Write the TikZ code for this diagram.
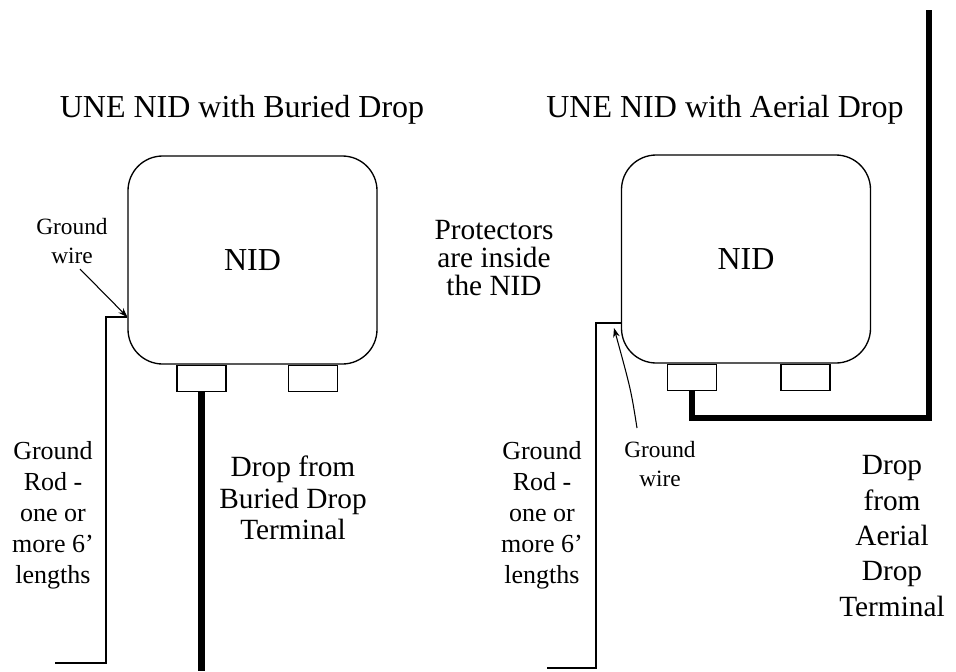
\documentclass[tikz,border=0pt]{standalone}
\usepackage{fontspec}
\setmainfont{Liberation Serif}
\usetikzlibrary{arrows.meta}
\begin{document}
\begin{tikzpicture}[x=0.75pt,y=-0.75pt,
  nidbox/.style={draw,line width=1pt,rounded corners=26pt,minimum width=186.75pt,minimum height=156pt,inner sep=0pt,font=\fontsize{24}{28}\selectfont},
  conn/.style={draw,line width=1pt,minimum width=36.75pt,minimum height=19.5pt,inner sep=0pt,anchor=north},
  wire/.style={line width=1pt},
  dropline/.style={line width=4.8pt},
  arr/.style={line width=0.8pt,-{Stealth[length=7pt,width=5pt]}},
  title/.style={font=\fontsize{24}{28}\selectfont,inner sep=0pt},
  big/.style={font=\fontsize{22}{23.5}\selectfont,align=center,inner sep=0pt},
  bigtight/.style={font=\fontsize{22}{21}\selectfont,align=center,inner sep=0pt},
  bigwide/.style={font=\fontsize{22}{26.5}\selectfont,align=center,inner sep=0pt},
  mid/.style={font=\fontsize{19.5}{23.25}\selectfont,align=center,inner sep=0pt},
  small/.style={font=\fontsize{17.5}{21.5}\selectfont,align=center,inner sep=0pt}]
\useasboundingbox (0,0) rectangle (956,671);

% titles
\node[title] (tL) at (242,110) {UNE NID with Buried Drop};
\node[title] (tR) at (725,110) {UNE NID with Aerial Drop};

% NID boxes
\node[nidbox] (nidL) at (252.5,260) {NID};
\node[nidbox] (nidR) at (746,259) {NID};

% connectors
\node[conn] (cL1) at (nidL.south -| 201.5,0) {};
\node[conn] (cL2) at (nidL.south -| 313,0) {};
\node[conn] (cR1) at (nidR.south -| 692,0) {};
\node[conn] (cR2) at (nidR.south -| 805.5,0) {};

% coordinates
\coordinate (gwL) at (nidL.west |- 0,317);
\coordinate (rodLbot) at (106,663);
\coordinate (rodLend) at (55,663);
\coordinate (gwR) at (nidR.west |- 0,323);
\coordinate (rodRbot) at (596,668);
\coordinate (rodRend) at (547,668);
\coordinate (dropLend) at (201.5,671);
\coordinate (dropRcorner) at (929,418);
\coordinate (dropRtop) at (929,10);
\coordinate (gwLtail) at (80,269);
\coordinate (gwRtail) at (637,428);
\coordinate (gwRtip) at (614,328);

% drops
\draw[dropline] (cL1.south) -- (dropLend);
\draw[dropline] (cR1.south) |- (dropRcorner) -- (dropRtop);

% ground rods
\draw[wire] (gwL) -| (rodLbot) -- (rodLend);
\draw[wire] (gwR) -| (rodRbot) -- (rodRend);

% labels
\node[small] (gwLlab) at (72,241) {Ground\\wire};
\node[small] (gwRlab) at (660,464) {Ground\\wire};
\draw[arr] (gwLtail) -- (gwL);
\draw[arr] (gwRtail) .. controls (631,390) .. (gwRtip);

\node[mid] (rodLlab) at (53,515) {Ground\\Rod -\\one or\\more 6’\\lengths};
\node[mid] (rodRlab) at (542,515) {Ground\\Rod -\\one or\\more 6’\\lengths};

\node[bigtight] (prot) at (494,258) {Protectors\\are inside\\the NID};
\node[big] (dropLlab) at (293,498) {Drop from\\Buried Drop\\Terminal};
\node[bigwide] (dropRlab) at (892,536) {Drop\\from\\Aerial\\Drop\\Terminal};
\end{tikzpicture}
\end{document}
